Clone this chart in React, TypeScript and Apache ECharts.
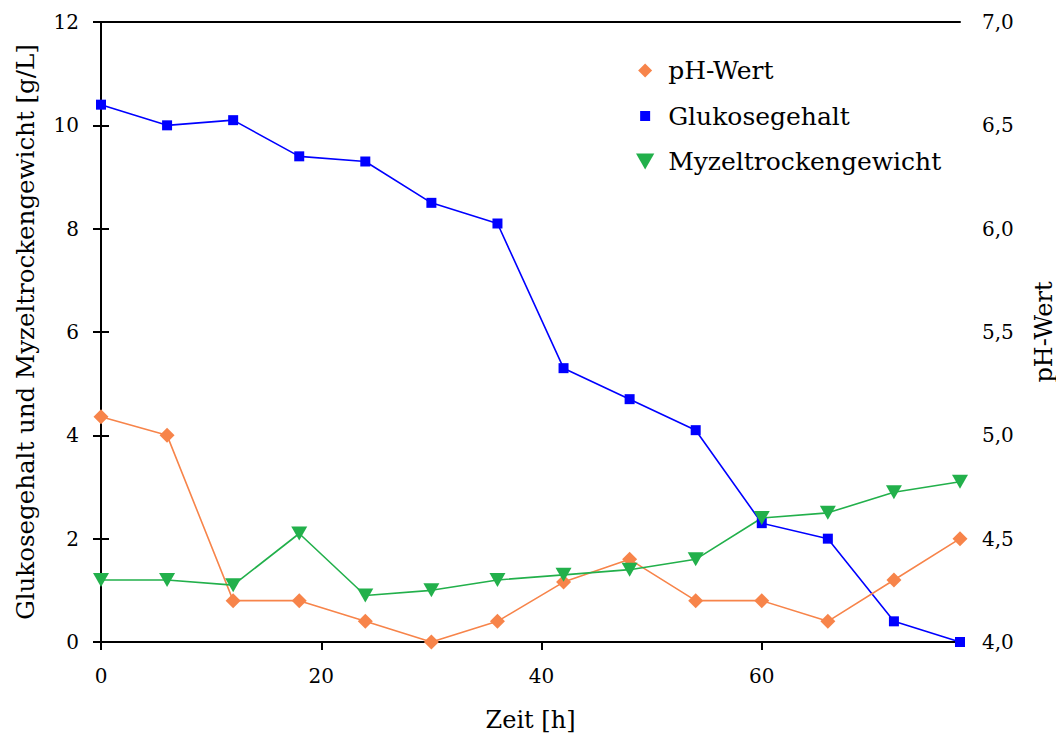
import React, { useEffect, useRef } from "react";
import * as echarts from "echarts";

// Fermentation time course: pH, glucose content and mycelium dry weight
const hours = [0, 6, 12, 18, 24, 30, 36, 42, 48, 54, 60, 66, 72, 78];
const glucose = [10.4, 10.0, 10.1, 9.4, 9.3, 8.5, 8.1, 5.3, 4.7, 4.1, 2.3, 2.0, 0.4, 0.0];
const mycelium = [1.2, 1.2, 1.1, 2.1, 0.9, 1.0, 1.2, 1.3, 1.4, 1.6, 2.4, 2.5, 2.9, 3.1];
const ph = [5.09, 5.0, 4.2, 4.2, 4.1, 4.0, 4.1, 4.29, 4.4, 4.2, 4.2, 4.1, 4.3, 4.5];

const FONT = "DejaVu Serif";
const ORANGE = "#F7844A";
const BLUE = "#0000FF";
const GREEN = "#22B04B";

const DIAMOND = "path://M7,0 L14,7 L7,14 L0,7 Z";
const TRI_DOWN = "path://M0,0 L16,0 L8,14 Z";
// padded bounding box keeps the legend square smaller than the other icons
const SQUARE_LEGEND = "path://M0,0 M16,16 M3,3 L13,3 L13,13 L3,13 Z";
const DIAMOND_LEGEND = "path://M0,0 M16,16 M8,1 L15,8 L8,15 L1,8 Z";

const pairs = (ys: number[]) => hours.map((h, i) => [h, ys[i]]);

export default function App() {
  const ref = useRef<HTMLDivElement>(null);

  useEffect(() => {
    if (!ref.current) return;
    const chart = echarts.init(ref.current, null, { renderer: "svg" });
    const axisLine = { show: true, lineStyle: { color: "#000", width: 2 } };
    const axisTick = { show: true, inside: false, length: 8, lineStyle: { color: "#000", width: 2 } };
    chart.setOption({
      animation: false,
      backgroundColor: "#fff",
      textStyle: { fontFamily: FONT },
      grid: { left: 101, right: 101, top: 22, bottom: 98, containLabel: false },
      legend: {
        orient: "vertical",
        left: 631,
        top: 52,
        itemWidth: 36,
        itemHeight: 16,
        itemGap: 18.5,
        selectedMode: false,
        textStyle: { fontFamily: FONT, fontSize: 25, color: "#000", lineHeight: 27 },
        data: [
          { name: "pH-Wert", icon: DIAMOND_LEGEND },
          { name: "Glukosegehalt", icon: SQUARE_LEGEND },
          { name: "Myzeltrockengewicht", icon: TRI_DOWN },
        ],
      },
      xAxis: [
        {
          type: "value",
          min: 0,
          max: 78,
          interval: 20,
          name: "Zeit [h]",
          nameLocation: "middle",
          nameGap: 66,
          nameTextStyle: { fontFamily: FONT, fontSize: 24, color: "#000" },
          axisLine,
          axisTick,
          splitLine: { show: false },
          axisLabel: { fontFamily: FONT, fontSize: 20, color: "#000", margin: 24, showMaxLabel: false },
        },
        {
          type: "value",
          position: "top",
          min: 0,
          max: 78,
          axisLine,
          axisTick: { show: false },
          axisLabel: { show: false },
          splitLine: { show: false },
        },
      ],
      yAxis: [
        {
          type: "value",
          min: 0,
          max: 12,
          interval: 2,
          position: "left",
          name: "Glukosegehalt und Myzeltrockengewicht [g/L]",
          nameLocation: "middle",
          nameGap: 63,
          nameTextStyle: { fontFamily: FONT, fontSize: 24.5, color: "#000" },
          axisLine,
          axisTick,
          splitLine: { show: false },
          axisLabel: { fontFamily: FONT, fontSize: 20, color: "#000", margin: 22 },
        },
        {
          type: "value",
          min: 4,
          max: 7,
          interval: 0.5,
          position: "right",
          name: "pH-Wert",
          nameLocation: "middle",
          nameGap: 72,
          nameRotate: 90,
          nameTextStyle: { fontFamily: FONT, fontSize: 24, color: "#000" },
          axisLine,
          axisTick,
          splitLine: { show: false },
          axisLabel: {
            fontFamily: FONT,
            fontSize: 20,
            color: "#000",
            margin: 22,
            formatter: (v: number) => v.toFixed(1).replace(".", ","),
          },
        },
      ],
      series: [
        {
          name: "Glukosegehalt",
          type: "line",
          yAxisIndex: 0,
          data: pairs(glucose),
          symbol: "rect",
          symbolSize: 10,
          itemStyle: { color: BLUE },
          lineStyle: { color: BLUE, width: 1.6 },
        },
        {
          name: "pH-Wert",
          type: "line",
          yAxisIndex: 1,
          data: pairs(ph),
          symbol: DIAMOND,
          symbolSize: 15,
          itemStyle: { color: ORANGE },
          lineStyle: { color: ORANGE, width: 1.6 },
        },
        {
          name: "Myzeltrockengewicht",
          type: "line",
          yAxisIndex: 0,
          data: pairs(mycelium),
          symbol: TRI_DOWN,
          symbolSize: [16, 14],
          itemStyle: { color: GREEN },
          lineStyle: { color: GREEN, width: 1.6 },
        },
      ],
    });
    return () => chart.dispose();
  }, []);

  return <div ref={ref} style={{ width: 1064, height: 740, marginLeft: -8, marginTop: -8 }} />;
}
